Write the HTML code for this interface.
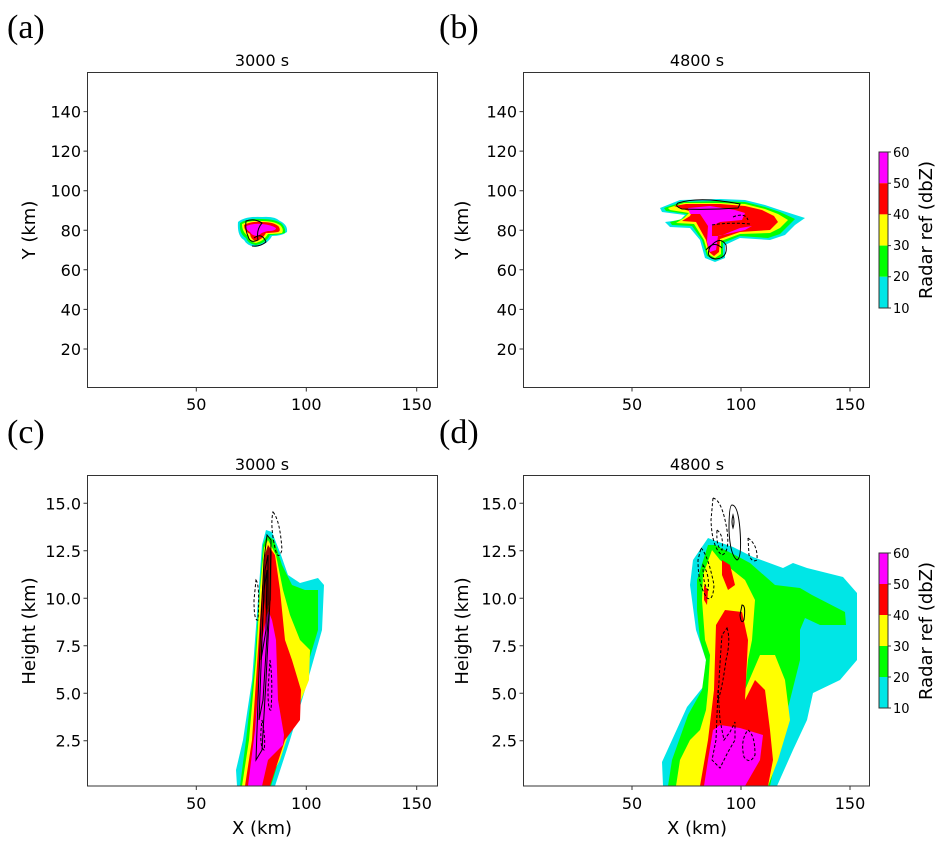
<!DOCTYPE html>
<html><head><meta charset="utf-8"><style>
body{margin:0;background:#fff}
svg{display:block}
text{font-family:"DejaVu Sans","Liberation Sans",sans-serif;fill:#000}
.t{font-size:16px}
.s{font-family:"Liberation Serif",serif;font-size:34px}
.cb{font-size:13px}
</style></head><body>
<svg width="950" height="856" viewBox="0 0 950 856" xmlns="http://www.w3.org/2000/svg">
<text class="s" x="7" y="38">(a)</text>
<text class="s" x="439" y="38">(b)</text>
<text class="s" x="7" y="443">(c)</text>
<text class="s" x="439" y="443">(d)</text>
<text class="t" x="262" y="66" text-anchor="middle">3000 s</text>
<text class="t" x="697" y="66" text-anchor="middle">4800 s</text>
<text class="t" x="262" y="470" text-anchor="middle">3000 s</text>
<text class="t" x="697" y="470" text-anchor="middle">4800 s</text>

<!-- panel a storm -->
<g>
<path d="M238,222 Q245,216 262,217 Q275,216 280,221 Q288,225 287,232 Q282,236 272,236 Q268,244 256,247 Q247,246 244,240 Q237,236 238,222Z" fill="#00e6e6"/>
<path d="M240,223 Q248,218 262,219 Q276,219 282,224 Q286,229 285,233 Q278,235 270,235 Q266,243 256,245 Q248,244 246,238 Q239,234 240,223Z" fill="#00ff00"/>
<path d="M242,224 Q250,220 262,221 Q276,221 281,226 Q284,230 282,233 Q276,234 268,234 Q264,241 256,243 Q250,242 248,236 Q242,232 242,224Z" fill="#ffff00"/>
<path d="M244,225 Q252,221 262,222 Q275,222 279,227 Q281,231 278,232 Q270,233 266,233 Q262,240 256,241 Q251,240 250,234 Q244,231 244,225Z" fill="#ff0000"/>
<path d="M246,226 Q254,223 262,224 Q272,225 276,228 Q276,231 268,231 Q262,232 258,236 Q252,236 250,232 Q246,230 246,226Z" fill="#ff00ff"/>
<path d="M246,221 Q255,218 262,223 Q256,230 258,240 Q250,244 248,236 Q245,230 246,221Z M254,238 Q262,232 266,242 Q260,247 252,246" fill="none" stroke="#000" stroke-width="1"/>
</g>

<!-- panel b storm -->
<g>
<path d="M660,208 L680,200 L720,199 L745,200 L765,205 L780,210 L805,218 L795,225 L785,235 L770,240 L740,238 L725,245 L725,258 L715,262 L705,258 L700,240 L690,228 L670,227 L665,222 L680,220 L685,215 L662,212Z" fill="#00e6e6"/>
<path d="M664,208 L682,202 L720,201 L745,202 L765,207 L780,212 L795,219 L788,226 L780,234 L768,238 L740,236 L723,243 L723,256 L715,260 L707,256 L702,240 L692,226 L672,225 L670,222 L682,219 L687,214 L666,211Z" fill="#00ff00"/>
<path d="M668,208 L684,203 L720,203 L745,204 L765,209 L778,214 L788,220 L780,228 L770,233 L740,234 L721,241 L721,254 L715,258 L708,254 L704,240 L694,224 L676,223 L684,218 L689,213 L670,210Z" fill="#ffff00"/>
<path d="M674,206 L686,204 L720,204 L745,206 L762,210 L774,216 L778,222 L770,230 L740,232 L720,239 L719,252 L714,256 L709,252 L706,240 L696,222 L682,221 L690,216 L692,212Z" fill="#ff0000"/>
<path d="M688,208 L710,206 L735,210 L745,213 L742,220 L720,222 L712,226 L712,236 L720,236 L740,228 L752,226 L745,230 L718,236 L716,250 L710,252 L707,242 L708,226 L700,214 L690,214Z" fill="#ff00ff"/>
<path d="M678,203 Q700,196 740,204 L738,208 Q710,210 682,209 Q674,206 678,203Z" fill="none" stroke="#000" stroke-width="1"/>
<path d="M710,247 Q720,235 726,245 Q728,258 716,259 Q705,258 710,247Z M706,250 Q714,240 722,248" fill="none" stroke="#000" stroke-width="1"/>
<path d="M712,225 Q730,222 750,224 M733,217 Q745,212 748,220" fill="none" stroke="#000" stroke-width="1" stroke-dasharray="3,2"/>
</g>

<!-- panel c -->
<g>
<path d="M237,786 L236,770 243,740 252,680 258,600 262,545 266,530 272,532 281,555 288,575 300,583 318,578 324,585 322,630 305,690 290,740 275,786Z" fill="#00e6e6"/>
<path d="M240,786 L246,740 254,670 259,600 263,545 267,535 274,540 282,565 292,585 305,590 318,590 318,630 300,690 285,740 271,786Z" fill="#00ff00"/>
<path d="M242,786 L249,740 256,660 260,590 264,548 268,540 276,555 283,590 290,615 300,640 310,650 309,680 293,720 280,760 266,786Z" fill="#ffff00"/>
<path d="M245,786 L252,740 258,650 262,590 265,555 268,545 275,555 280,590 285,640 292,660 301,690 300,720 285,740 270,786Z" fill="#ff0000"/>
<path d="M248,786 L255,730 262,640 268,610 272,620 276,640 278,700 284,735 283,745 268,760 262,786Z" fill="#ff00ff"/>
<path d="M262,590 L265,555 268,545 272,552 271,600 266,612Z" fill="#a00000"/>
<g fill="none" stroke="#000" stroke-width="1">
<path d="M256,760 L258,700 261,620 264,560 267,535 271,540 270,600 266,680 262,750Z"/>
<path d="M259,720 L262,640 265,570 268,555 268,620 263,700Z"/>
<path d="M261,660 L264,590 267,570 266,630Z"/>
</g>
<g fill="none" stroke="#000" stroke-width="1" stroke-dasharray="3,2">
<path d="M273,512 Q280,520 282,550 Q278,562 275,548 Q270,525 273,512Z"/>
<path d="M256,580 Q260,585 258,620 Q254,622 254,600Z"/>
<path d="M270,660 Q273,680 271,710 Q268,712 268,690Z"/>
<path d="M262,720 Q266,740 264,750 Q260,748 261,730Z"/>
</g>
</g>

<!-- panel d -->
<g>
<path d="M663,786 L662,762 672,740 687,707 703,687 706,660 696,630 692,600 690,585 693,560 708,538 713,540 733,547 753,557 783,568 793,563 807,568 843,577 857,593 857,660 840,680 813,693 807,720 793,750 777,786Z" fill="#00e6e6"/>
<path d="M668,786 L672,760 688,715 702,690 706,660 700,640 697,610 697,580 708,545 715,545 735,555 750,563 775,585 800,588 812,595 845,612 846,625 820,625 805,618 800,630 800,660 790,700 780,740 770,786Z" fill="#00ff00"/>
<path d="M676,786 L680,760 690,740 700,730 706,710 708,690 710,655 705,640 702,600 703,575 712,550 720,560 745,580 755,600 752,640 748,660 745,690 760,655 775,655 785,680 790,720 778,760 768,786Z" fill="#ffff00"/>
<path d="M700,786 L708,740 714,690 716,625 725,610 742,612 748,640 745,700 755,680 765,690 770,730 773,760 768,786Z" fill="#ff0000"/>
<path d="M722,560 L730,565 735,585 728,590 722,575Z M704,585 L708,590 707,605 704,600Z" fill="#ff0000"/>
<path d="M704,786 L708,760 713,730 720,725 740,728 763,735 760,760 745,786Z" fill="#ff00ff"/>
<g fill="none" stroke="#000" stroke-width="1" stroke-dasharray="3,2">
<path d="M713,498 Q722,500 727,530 Q730,552 722,555 Q712,548 711,520Z"/>
<path d="M717,530 Q724,535 722,550 Q716,548 717,530Z"/>
<path d="M701,548 Q708,555 714,585 Q713,602 707,598 Q698,585 698,560Z"/>
<path d="M703,565 Q710,575 708,590 Q703,585 703,565Z"/>
<path d="M748,538 Q758,545 757,560 Q752,563 749,555Z"/>
<path d="M727,628 Q731,640 726,660 Q722,690 718,700 Q720,660 722,635Z"/>
<path d="M718,690 L716,740 712,760 720,768 728,752 735,740 735,722 730,732 724,740 720,720Z"/>
<path d="M748,730 Q755,735 755,755 Q750,765 744,757 Q740,740 748,730Z"/>
</g>
<g fill="none" stroke="#000" stroke-width="1">
<path d="M732,505 Q738,505 740,530 Q742,558 737,560 Q730,555 729,530 Q729,505 732,505Z"/>
<path d="M733,515 Q735,522 733,528 Q731,522 733,515Z"/>
<path d="M742,605 Q746,605 744,620 Q741,625 740,615Z"/>
</g>
</g>

<!-- axes frames -->
<g fill="none" stroke="#333" stroke-width="1">
<rect x="87.5" y="72.5" width="350" height="315"/>
<rect x="523.5" y="72.5" width="346" height="315"/>
<rect x="87.5" y="475.5" width="350" height="310.5"/>
<rect x="523.5" y="475.5" width="346" height="310.5"/>
</g>
<!-- ticks -->
<g stroke="#333" stroke-width="1">
<path d="M196.3,387.5v4M306.3,387.5v4M416.7,387.5v4M632,387.5v4M741,387.5v4M850,387.5v4"/>
<path d="M196.3,786v4M306.3,786v4M416.7,786v4M632,786v4M741,786v4M850,786v4"/>
<path d="M87.5,349h-4M87.5,309.4h-4M87.5,269.8h-4M87.5,230.3h-4M87.5,190.7h-4M87.5,151.1h-4M87.5,111.6h-4"/>
<path d="M523.5,349h-4M523.5,309.4h-4M523.5,269.8h-4M523.5,230.3h-4M523.5,190.7h-4M523.5,151.1h-4M523.5,111.6h-4"/>
<path d="M87.5,740.7h-4M87.5,693.3h-4M87.5,645.8h-4M87.5,598.3h-4M87.5,550.8h-4M87.5,503.3h-4"/>
<path d="M523.5,740.7h-4M523.5,693.3h-4M523.5,645.8h-4M523.5,598.3h-4M523.5,550.8h-4M523.5,503.3h-4"/>
</g>
<g class="t" text-anchor="middle">
<text x="196.3" y="410">50</text><text x="306.3" y="410">100</text><text x="416.7" y="410">150</text>
<text x="632" y="410">50</text><text x="741" y="410">100</text><text x="850" y="410">150</text>
<text x="196.3" y="809">50</text><text x="306.3" y="809">100</text><text x="416.7" y="809">150</text>
<text x="632" y="809">50</text><text x="741" y="809">100</text><text x="850" y="809">150</text>
</g>
<g class="t" text-anchor="end">
<text x="81" y="355">20</text><text x="81" y="315.4">40</text><text x="81" y="275.8">60</text><text x="81" y="236.3">80</text><text x="81" y="196.7">100</text><text x="81" y="157.1">120</text><text x="81" y="117.6">140</text>
<text x="517" y="355">20</text><text x="517" y="315.4">40</text><text x="517" y="275.8">60</text><text x="517" y="236.3">80</text><text x="517" y="196.7">100</text><text x="517" y="157.1">120</text><text x="517" y="117.6">140</text>
<text x="81" y="746.7">2.5</text><text x="81" y="699.3">5.0</text><text x="81" y="651.8">7.5</text><text x="81" y="604.3">10.0</text><text x="81" y="556.8">12.5</text><text x="81" y="509.3">15.0</text>
<text x="517" y="746.7">2.5</text><text x="517" y="699.3">5.0</text><text x="517" y="651.8">7.5</text><text x="517" y="604.3">10.0</text><text x="517" y="556.8">12.5</text><text x="517" y="509.3">15.0</text>
</g>
<g style="font-size:18px" text-anchor="middle">
<text transform="translate(35,230) rotate(-90)">Y (km)</text>
<text transform="translate(468,230) rotate(-90)">Y (km)</text>
<text transform="translate(35,631) rotate(-90)">Height (km)</text>
<text transform="translate(468,631) rotate(-90)">Height (km)</text>
<text x="262" y="834">X (km)</text>
<text x="697" y="834">X (km)</text>
</g>

<!-- colorbars -->
<g>
<rect x="879" y="152" width="9" height="31.2" fill="#ff00ff"/>
<rect x="879" y="183.2" width="9" height="31.2" fill="#ff0000"/>
<rect x="879" y="214.4" width="9" height="31.2" fill="#ffff00"/>
<rect x="879" y="245.6" width="9" height="31.2" fill="#00ff00"/>
<rect x="879" y="276.8" width="9" height="31.2" fill="#00e6e6"/>
<rect x="879" y="152" width="9" height="156" fill="none" stroke="#333"/>
<path d="M888,152h3M888,183.2h3M888,214.4h3M888,245.6h3M888,276.8h3M888,308h3" stroke="#333"/>
<g class="cb"><text x="893" y="157">60</text><text x="893" y="188">50</text><text x="893" y="219">40</text><text x="893" y="250">30</text><text x="893" y="281">20</text><text x="893" y="313">10</text></g>
<text transform="translate(932,230) rotate(-90)" text-anchor="middle" style="font-size:18px">Radar ref (dbZ)</text>

<rect x="879" y="553" width="9" height="31" fill="#ff00ff"/>
<rect x="879" y="584" width="9" height="31" fill="#ff0000"/>
<rect x="879" y="615" width="9" height="31" fill="#ffff00"/>
<rect x="879" y="646" width="9" height="31" fill="#00ff00"/>
<rect x="879" y="677" width="9" height="31" fill="#00e6e6"/>
<rect x="879" y="553" width="9" height="155" fill="none" stroke="#333"/>
<path d="M888,553h3M888,584h3M888,615h3M888,646h3M888,677h3M888,708h3" stroke="#333"/>
<g class="cb"><text x="893" y="558">60</text><text x="893" y="589">50</text><text x="893" y="620">40</text><text x="893" y="651">30</text><text x="893" y="682">20</text><text x="893" y="713">10</text></g>
<text transform="translate(932,631) rotate(-90)" text-anchor="middle" style="font-size:18px">Radar ref (dbZ)</text>
</g>
</svg>
</body></html>
